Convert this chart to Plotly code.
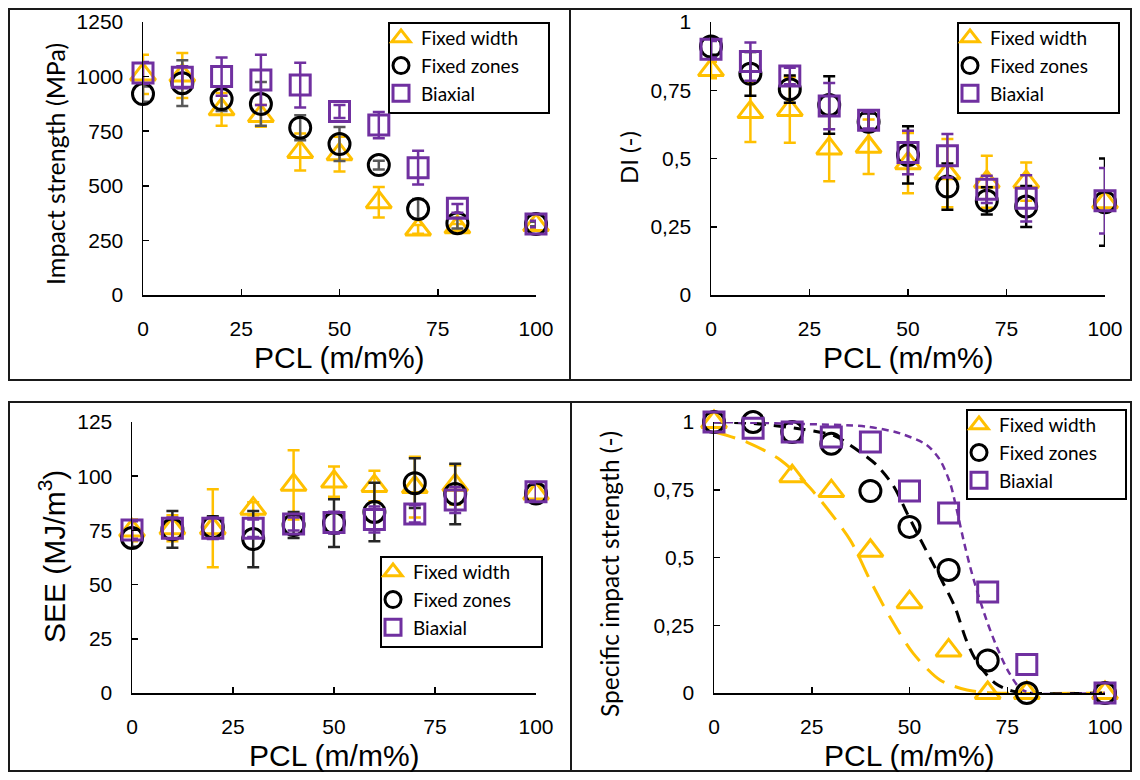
import plotly.graph_objects as go

# ---------------- data ----------------
pcl = [0, 10, 20, 30, 40, 50, 60, 70, 80, 100]
series_names = ["Fixed width", "Fixed zones", "Biaxial"]

# Impact strength (MPa)
is_fw = [1010, 1005, 850, 820, 655, 645, 425, 300, 310, 320]
is_fw_err = [90, 103, 75, 50, 85, 80, 70, 20, 15, 15]
is_fz = [920, 970, 897, 875, 766, 691, 595, 394, 329, 325]
is_fz_err = [35, 105, 55, 100, 57, 78, 20, 45, 25, 10]
is_bx = [1017, 997, 1000, 985, 961, 840, 778, 583, 397, 325]
is_bx_err = [50, 50, 88, 115, 102, 30, 60, 77, 20, 15]

# DI (-)
di_fw = [0.824, 0.67, 0.678, 0.537, 0.543, 0.483, 0.446, 0.415, 0.415, 0.34]
di_fw_err = [0.03, 0.11, 0.12, 0.12, 0.10, 0.11, 0.125, 0.095, 0.07, 0.03]
di_fz = [0.91, 0.81, 0.754, 0.696, 0.635, 0.513, 0.397, 0.345, 0.324, 0.34]
di_fz_err = [0.03, 0.08, 0.05, 0.105, 0.03, 0.105, 0.085, 0.05, 0.075, 0.16]
di_bx = [0.90, 0.855, 0.802, 0.692, 0.64, 0.522, 0.51, 0.387, 0.354, 0.345]
di_bx_err = [0.03, 0.07, 0.03, 0.085, 0.03, 0.08, 0.08, 0.05, 0.085, 0.12]

# SEE (MJ/m3)
see_fw = [75, 76, 76, 85, 96, 97.5, 95.5, 95, 96, 92]
see_fw_err = [5, 6, 18, 3, 16, 7, 7, 14, 9, 4]
see_fz = [71.5, 75.5, 76.5, 71, 77.5, 78.4, 83.5, 96.8, 91.8, 92]
see_fz_err = [4, 8.5, 5, 13, 6, 11, 13.5, 11.5, 14, 4]
see_bx = [75.2, 76, 76, 76, 78, 78.6, 80, 82.6, 89, 92.8]
see_bx_err = [4, 5, 5, 4, 3, 5, 6, 4, 6, 4]

# Specific impact strength (-)
sis_fw_x = [0, 20, 30, 40, 50, 60, 70, 80, 100]
sis_fw = [1.0, 0.80, 0.745, 0.525, 0.335, 0.157, 0.0, 0.0, 0.0]
sis_fz = [1.0, 1.0, 0.963, 0.92, 0.745, 0.613, 0.454, 0.12, 0.0, 0.0]
sis_bx = [1.0, 0.977, 0.963, 0.945, 0.926, 0.745, 0.664, 0.373, 0.105, 0.0]

# fitted curves
fit_fw_x = [0, 8.5, 17, 24.6, 34.8, 39.9, 45, 50.9, 57.8, 64.7, 72, 100]
fit_fw_y = [0.964, 0.925, 0.86, 0.756, 0.565, 0.417, 0.28, 0.147, 0.048, 0.011, 0.0, 0.0]
fit_fz_x = [0, 10, 22.8, 31, 36, 41.6, 45.9, 49.4, 52.5, 58.2, 61.6, 64.5, 67.2, 71.9, 77, 100]
fit_fz_y = [1.0, 0.995, 0.973, 0.948, 0.903, 0.841, 0.764, 0.663, 0.575, 0.417, 0.318, 0.196, 0.116, 0.036, 0.005, 0.0]
fit_bx_x = [0, 22, 39, 47.6, 54.4, 57.8, 60.4, 62.1, 63.8, 65.5, 67.2, 69.7, 72.3, 75.3, 78.3, 81, 100]
fit_bx_y = [1.0, 0.993, 0.983, 0.958, 0.915, 0.86, 0.774, 0.675, 0.565, 0.466, 0.38, 0.269, 0.171, 0.079, 0.017, 0.0, 0.0]

x_ticks = [0, 25, 50, 75, 100]
x_ticktext = ["0", "25", "50", "75", "100"]
is_ticks = [0, 250, 500, 750, 1000, 1250]
is_ticktext = ["0", "250", "500", "750", "1000", "1250"]
frac_ticks = [0, 0.25, 0.5, 0.75, 1]
frac_ticktext = ["0", "0,25", "0,5", "0,75", "1"]
see_ticks = [0, 25, 50, 75, 100, 125]
see_ticktext = ["0", "25", "50", "75", "100", "125"]

# ---------------- style ----------------
PAGE_MARGIN = 8          # default <body> margin of the page
W, H = 1140 - 2 * PAGE_MARGIN, 780 - 2 * PAGE_MARGIN
ORANGE = "#FFC000"
PURPLE = "#7030A0"
BLACK = "#000000"
GRAY = "#595959"
TICKFONT = dict(family="Liberation Sans, Arial", size=21, color="black")
CAL = "Lato, Open Sans, sans-serif"
ARIAL = "Liberation Sans, Arial"

symbols = ["triangle-up-open", "circle-open", "square-open"]
colors = [ORANGE, BLACK, PURPLE]
sizes = [22, 21, 20]


def px_x(p):
    # screen pixel -> paper fraction
    return (p - PAGE_MARGIN) / W


def px_y(p):
    return 1 - (p - PAGE_MARGIN) / H


fig = go.Figure()


def add_points(x, ys, errs, xa, ya, leg, errcolors):
    for i in range(3):
        kw = {}
        if errs is not None:
            kw["error_y"] = dict(type="data", array=errs[i], color=errcolors[i],
                                 thickness=2.5, width=6)
        fig.add_trace(go.Scatter(
            x=x[i] if isinstance(x[0], list) else x, y=ys[i], mode="markers",
            name=series_names[i], xaxis=xa, yaxis=ya, legend=leg,
            cliponaxis=False,
            marker=dict(symbol=symbols[i], size=sizes[i], color=colors[i],
                        line=dict(width=3, color=colors[i])),
            **kw))


add_points(pcl, [is_fw, is_fz, is_bx], [is_fw_err, is_fz_err, is_bx_err],
           "x", "y", "legend", [ORANGE, GRAY, PURPLE])
add_points(pcl, [di_fw, di_fz, di_bx], [di_fw_err, di_fz_err, di_bx_err],
           "x2", "y2", "legend2", [ORANGE, BLACK, PURPLE])
add_points(pcl, [see_fw, see_fz, see_bx], [see_fw_err, see_fz_err, see_bx_err],
           "x3", "y3", "legend3", [ORANGE, "#262626", PURPLE])

# fitted curves (drawn under the markers)
for cx, cy, col, dash, w in [
    (fit_fw_x, fit_fw_y, ORANGE, "22px,11px", 3),
    (fit_fz_x, fit_fz_y, BLACK, "12px,8px", 3),
    (fit_bx_x, fit_bx_y, PURPLE, "7px,5px", 2.5),
]:
    fig.add_trace(go.Scatter(x=cx, y=cy, mode="lines", showlegend=False,
                             xaxis="x4", yaxis="y4", cliponaxis=False,
                             line=dict(color=col, dash=dash, width=w, shape="spline",
                                       smoothing=0.8),
                             hoverinfo="skip"))
add_points([sis_fw_x, pcl, pcl], [sis_fw, sis_fz, sis_bx], None,
           "x4", "y4", "legend4", None)

# ---------------- axes ----------------
domains = {
    "1": ([143, 536], [22, 295]),
    "2": ([711, 1105], [22, 295]),
    "3": ([132, 536], [422, 693]),
    "4": ([714, 1105], [422, 693]),
}
yranges = {"1": [0, 1250], "2": [0, 1], "3": [0, 125], "4": [0, 1]}
yticks = {"1": (is_ticks, is_ticktext), "2": (frac_ticks, frac_ticktext),
          "3": (see_ticks, see_ticktext), "4": (frac_ticks, frac_ticktext)}

layout_axes = {}
for k, (dx, dy) in domains.items():
    xn = "xaxis" if k == "1" else "xaxis" + k
    yn = "yaxis" if k == "1" else "yaxis" + k
    xref = "x" if k == "1" else "x" + k
    yref = "y" if k == "1" else "y" + k
    layout_axes[xn] = dict(domain=[px_x(dx[0]), px_x(dx[1])], anchor=yref,
                           range=[0, 100], tickvals=x_ticks, ticktext=x_ticktext,
                           showgrid=False, zeroline=False, showline=True,
                           linecolor="black", linewidth=1.5, ticks="inside",
                           ticklen=6, tickwidth=1.5, tickcolor="black",
                           tickfont=TICKFONT, ticklabelstandoff=14, fixedrange=True)
    layout_axes[yn] = dict(domain=[px_y(dy[1]), px_y(dy[0])], anchor=xref,
                           range=yranges[k], tickvals=yticks[k][0],
                           ticktext=yticks[k][1], showgrid=False, zeroline=False,
                           showline=True, linecolor="black", linewidth=1.5,
                           ticks="inside", ticklen=6, tickwidth=1.5,
                           tickcolor="black", tickfont=TICKFONT,
                           ticklabelstandoff=14, fixedrange=True)

# ---------------- annotations (axis titles) ----------------
ann = []


def add_text(text, x, y, size, family, angle=0):
    ann.append(dict(text=text, x=px_x(x), y=px_y(y), xref="paper", yref="paper",
                    showarrow=False, textangle=angle, xanchor="center",
                    yanchor="middle", font=dict(family=family, size=size,
                                                color="black")))


add_text("PCL (m/m%)", 339.5, 357, 30, ARIAL)
add_text("PCL (m/m%)", 908, 357, 30, ARIAL)
add_text("PCL (m/m%)", 334, 755, 30, ARIAL)
add_text("PCL (m/m%)", 909.5, 755, 30, ARIAL)
add_text("Impact strength (MPa)", 55, 164, 25, CAL, -90)
add_text("DI (-)", 628, 158, 24, CAL, -90)
add_text("SEE (MJ/m<sup>3</sup>)", 52, 557, 30, ARIAL, -90)
add_text("Specific impact strength (-)", 609, 574, 24.5, CAL, -90)

# ---------------- shapes (panel frames, legend boxes) ----------------
shapes = []


def rect(x0, y0, x1, y1, w=2, color="#1a1a1a"):
    shapes.append(dict(type="rect", xref="paper", yref="paper",
                       x0=px_x(x0), x1=px_x(x1), y0=px_y(y1), y1=px_y(y0),
                       line=dict(color=color, width=w), fillcolor="rgba(0,0,0,0)",
                       layer="below"))


# outer frames (clamped to the drawable area)
L, T = PAGE_MARGIN + 1, PAGE_MARGIN + 1
R, B = 1140 - PAGE_MARGIN - 1, 780 - PAGE_MARGIN - 1
rect(L, T, 570, 380)
rect(570, T, R, 380)
rect(L, 402, 571, B)
rect(571, 402, R, B)
legend_boxes = {"legend": (389, 23, 549, 113), "legend2": (958, 23, 1119, 113),
                "legend3": (381, 557, 542, 647), "legend4": (967, 410, 1126, 499)}
for lb in legend_boxes.values():
    rect(*lb, w=2, color="black")

legends = {}
for name, (x0, y0, x1, y1) in legend_boxes.items():
    legends[name] = dict(x=px_x(x0 - 8), y=px_y(y0 - 4), xanchor="left",
                         yanchor="top", bgcolor="rgba(0,0,0,0)", borderwidth=0,
                         font=dict(family=CAL, size=19, color="black"),
                         itemclick=False, itemdoubleclick=False)

fig.update_layout(width=W, height=H,
                  margin=dict(l=0, r=0, t=0, b=0, autoexpand=False),
                  paper_bgcolor="white", plot_bgcolor="white",
                  showlegend=True, annotations=ann, shapes=shapes,
                  **layout_axes, **legends)

fig.write_html("out.html", config={"displayModeBar": False, "staticPlot": True})
